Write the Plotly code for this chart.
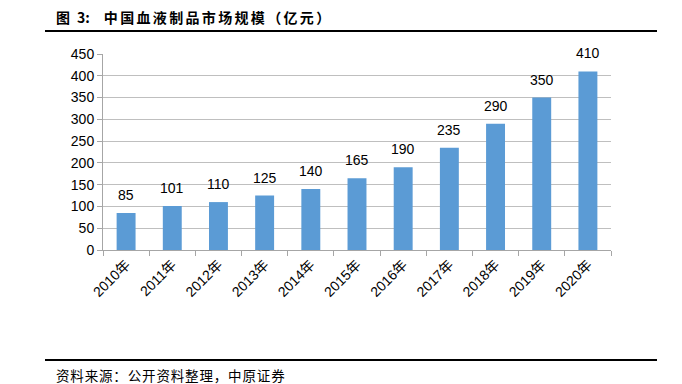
import plotly.graph_objects as go

categories = ["2010年", "2011年", "2012年", "2013年", "2014年", "2015年",
              "2016年", "2017年", "2018年", "2019年", "2020年"]
values = [85, 101, 110, 125, 140, 165, 190, 235, 290, 350, 410]
y_ticks = [0, 50, 100, 150, 200, 250, 300, 350, 400, 450]

FONT = "Liberation Sans, Arial, Noto Sans CJK SC, sans-serif"
CJK = "Noto Sans CJK SC, sans-serif"

fig = go.Figure(go.Bar(
    x=categories, y=values,
    marker=dict(color="#5B9BD5", line=dict(width=0)),
))

for c, v in zip(categories, values):
    fig.add_annotation(x=c, y=v, text=str(v), showarrow=False,
                       xanchor="center", yanchor="bottom", yshift=8,
                       font=dict(size=14, color="#000000", family=FONT))

W, H = 682, 384
L, R, T, B = 103, 71, 54, 134
fig.update_layout(
    width=W, height=H,
    margin=dict(l=L, r=R, t=T, b=B),
    paper_bgcolor="white", plot_bgcolor="white",
    bargap=0.59, showlegend=False,
    font=dict(family=FONT, color="#000000"),
)
fig.update_yaxes(
    range=[0, 450], tickvals=y_ticks, showgrid=True, gridcolor="#BFBFBF", gridwidth=1,
    showline=True, linecolor="#A6A6A6", linewidth=1,
    ticks="outside", ticklen=5, tickcolor="#A6A6A6",
    tickfont=dict(size=14, color="#000000", family=FONT), zeroline=False,
)
fig.update_xaxes(
    showline=True, linecolor="#A6A6A6", linewidth=1,
    ticks="outside", ticklen=5, tickcolor="#A6A6A6", tickson="boundaries",
    tickangle=-45, tickfont=dict(size=14, color="#000000", family=FONT),
)

def px_x(p):
    return (p - L) / (W - L - R)

def px_y(p):
    return (H - B - p) / (H - T - B)

shapes = [
    dict(type="line", xref="paper", yref="paper",
         x0=px_x(45), x1=px_x(657), y0=px_y(31), y1=px_y(31),
         line=dict(color="#000000", width=2)),
    dict(type="line", xref="paper", yref="paper",
         x0=px_x(45), x1=px_x(657), y0=px_y(360), y1=px_y(360),
         line=dict(color="#000000", width=2)),
]
fig.update_layout(shapes=shapes)

def spaced(s, sep):
    return sep.join(list(s))

title_text = "图\u2002" + "3:\u2003" + spaced("中国血液制品市场规模（亿元）", "\u2006")
source_text = spaced("资料来源：公开资料整理，中原证券", "\u200a")

fig.add_annotation(xref="paper", yref="paper", x=px_x(54), y=px_y(17),
                   xanchor="left", yanchor="middle", showarrow=False,
                   text="<b>" + title_text + "</b>",
                   font=dict(size=14, color="#000000", family=CJK))
fig.add_annotation(xref="paper", yref="paper", x=px_x(54), y=px_y(375),
                   xanchor="left", yanchor="middle", showarrow=False,
                   text=source_text,
                   font=dict(size=13.5, color="#000000", family=CJK))

fig.write_html("out.html", config={"displayModeBar": False},
               post_script="document.body.style.margin='0';document.body.style.padding='0';")
